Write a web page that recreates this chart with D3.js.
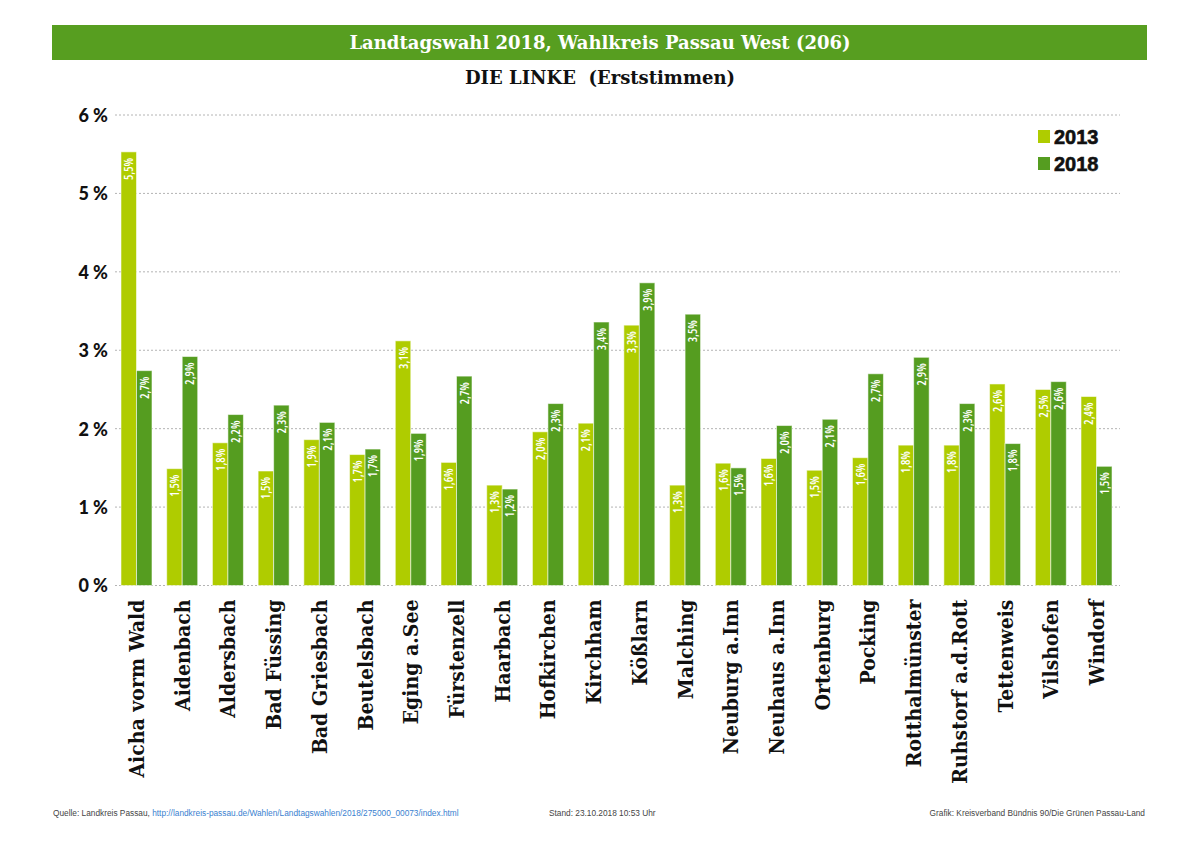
<!DOCTYPE html>
<html>
<head>
<meta charset="utf-8">
<script src="https://cdn.jsdelivr.net/npm/d3@7"></script>
<style>
  body { margin: 0; background: #fff; }
  svg { display: block; }
</style>
</head>
<body>
<svg id="chart" width="1200" height="848"></svg>
<script>
// Gemeinden im Wahlkreis Passau West
const gemeinden = ["Aicha vorm Wald", "Aidenbach", "Aldersbach", "Bad Füssing", "Bad Griesbach",
    "Beutelsbach", "Eging a.See", "Fürstenzell", "Haarbach", "Hofkirchen", "Kirchham", "Kößlarn",
    "Malching", "Neuburg a.Inn", "Neuhaus a.Inn", "Ortenburg", "Pocking", "Rotthalmünster",
    "Ruhstorf a.d.Rott", "Tettenweis", "Vilshofen", "Windorf"];
const jahre = ["2013", "2018"];
// Erststimmen DIE LINKE in %
const werte2013 = [5.53, 1.49, 1.82, 1.46, 1.86, 1.67, 3.12, 1.57, 1.28, 1.96, 2.07, 3.32,
    1.28, 1.56, 1.62, 1.47, 1.63, 1.79, 1.79, 2.57, 2.50, 2.41];
const werte2018 = [2.74, 2.92, 2.18, 2.30, 2.08, 1.74, 1.94, 2.67, 1.23, 2.32, 3.36, 3.86,
    3.46, 1.50, 2.04, 2.12, 2.70, 2.91, 2.32, 1.81, 2.60, 1.52];
const yTicks = [0, 1, 2, 3, 4, 5, 6];

const farben = { "2013": "#afcc00", "2018": "#559d20" };

const svg = d3.select("#chart");

// Kopfzeile
svg.append("rect")
    .attr("x", 52).attr("y", 25)
    .attr("width", 1095).attr("height", 35)
    .attr("fill", "#579e20");

svg.append("text")
    .attr("x", 600).attr("y", 49)
    .attr("text-anchor", "middle")
    .attr("fill", "#fff")
    .style("font-family", "'DejaVu Serif', serif")
    .style("font-weight", "bold")
    .style("font-size", "18px")
    .text("Landtagswahl 2018, Wahlkreis Passau West (206)");

svg.append("text")
    .attr("x", 600).attr("y", 84)
    .attr("text-anchor", "middle")
    .attr("fill", "#111")
    .style("font-family", "'DejaVu Serif', serif")
    .style("font-weight", "bold")
    .style("font-size", "18px")
    .attr("xml:space", "preserve")
    .text("DIE LINKE  (Erststimmen)");

// Skalen
const y = d3.scaleLinear().domain([0, 6]).range([585.5, 115]);
const x = d3.scaleBand()
    .domain(gemeinden)
    .range([115, 1118])
    .paddingInner(0.322)
    .paddingOuter(0.131);
const xJahr = d3.scaleBand().domain(jahre).range([0, x.bandwidth()]);

// Gitterlinien
svg.append("g")
    .selectAll("line")
    .data(yTicks)
    .join("line")
    .attr("x1", 115).attr("x2", 1120)
    .attr("y1", d => y(d)).attr("y2", d => y(d))
    .attr("stroke", "#b4b4b4")
    .attr("stroke-width", 1)
    .attr("stroke-dasharray", "2,2");

// y-Achse
const yAxis = d3.axisLeft(y).tickValues(yTicks).tickSize(0).tickPadding(0)
    .tickFormat(d => d + " %");
svg.append("g")
    .attr("transform", "translate(108,0)")
    .call(yAxis)
    .call(g => g.select(".domain").remove())
    .call(g => g.selectAll("text")
        .attr("fill", "#111")
        .attr("dy", "0.36em")
        .style("font-family", "Lato, 'Open Sans', sans-serif")
        .style("font-weight", 900)
        .style("font-size", "18px"));

// Balken
const daten = gemeinden.map((g, i) => ({
    gemeinde: g,
    werte: [{ jahr: "2013", wert: werte2013[i] }, { jahr: "2018", wert: werte2018[i] }]
}));

const gruppen = svg.append("g")
    .selectAll("g")
    .data(daten)
    .join("g")
    .attr("transform", d => `translate(${x(d.gemeinde)},0)`);

gruppen.selectAll("rect")
    .data(d => d.werte)
    .join("rect")
    .attr("x", d => xJahr(d.jahr))
    .attr("y", d => y(d.wert))
    .attr("width", xJahr.bandwidth())
    .attr("height", d => y(0) - y(d.wert))
    .attr("fill", d => farben[d.jahr])
    .attr("stroke", "rgba(255,255,255,0.55)")
    .attr("stroke-width", 1);

const fmt = v => v.toFixed(1).replace(".", ",") + "%";

gruppen.selectAll("text.wert")
    .data(d => d.werte)
    .join("text")
    .attr("class", "wert")
    .attr("transform", d => `translate(${xJahr(d.jahr) + xJahr.bandwidth() / 2 + 4.5},${y(d.wert) + 6}) rotate(-90)`)
    .attr("text-anchor", "end")
    .attr("fill", "#fff")
    .style("font-family", "'Open Sans', sans-serif")
    .style("font-size", "12px")
    .style("font-weight", 600)
    .style("font-stretch", "condensed")
    .text(d => fmt(d.wert));

// x-Achse (Gemeindenamen)
const xAxis = d3.axisBottom(x).tickSize(0).tickPadding(0);
svg.append("g")
    .attr("transform", `translate(0,${y(0)})`)
    .call(xAxis)
    .call(g => g.select(".domain").remove())
    .call(g => g.selectAll("text")
        .attr("transform", "translate(0,14) rotate(-90)")
        .attr("text-anchor", "end")
        .attr("dy", "0.36em")
        .attr("fill", "#111")
        .style("font-family", "'DejaVu Serif Condensed', 'DejaVu Serif', serif")
        .style("font-weight", "bold")
        .style("font-size", "21px"));

// Legende
const legende = svg.append("g")
    .selectAll("g")
    .data(jahre)
    .join("g")
    .attr("transform", (d, i) => `translate(1038,${130 + i * 27})`);

legende.append("rect")
    .attr("width", 12).attr("height", 13)
    .attr("fill", d => farben[d]);

legende.append("text")
    .attr("x", 16).attr("y", 14)
    .attr("fill", "#111")
    .attr("stroke", "#111")
    .attr("stroke-width", 0.6)
    .style("font-family", "'Liberation Sans', Arial, sans-serif")
    .style("font-weight", "bold")
    .style("font-size", "20px")
    .text(d => d);

// Fußzeile
const fuss = svg.append("g")
    .style("font-family", "'Liberation Sans', Arial, sans-serif")
    .style("font-size", "8.3px")
    .attr("fill", "#444");

const quelle = fuss.append("text").attr("x", 53).attr("y", 816);
quelle.append("tspan").text("Quelle: Landkreis Passau, ");
quelle.append("tspan").attr("fill", "#3a7fd0")
    .text("http://landkreis-passau.de/Wahlen/Landtagswahlen/2018/275000_00073/index.html");

fuss.append("text").attr("x", 549).attr("y", 816)
    .text("Stand: 23.10.2018 10:53 Uhr");

fuss.append("text").attr("x", 1145).attr("y", 816)
    .attr("text-anchor", "end")
    .text("Grafik: Kreisverband Bündnis 90/Die Grünen Passau-Land");
</script>
</body>
</html>
